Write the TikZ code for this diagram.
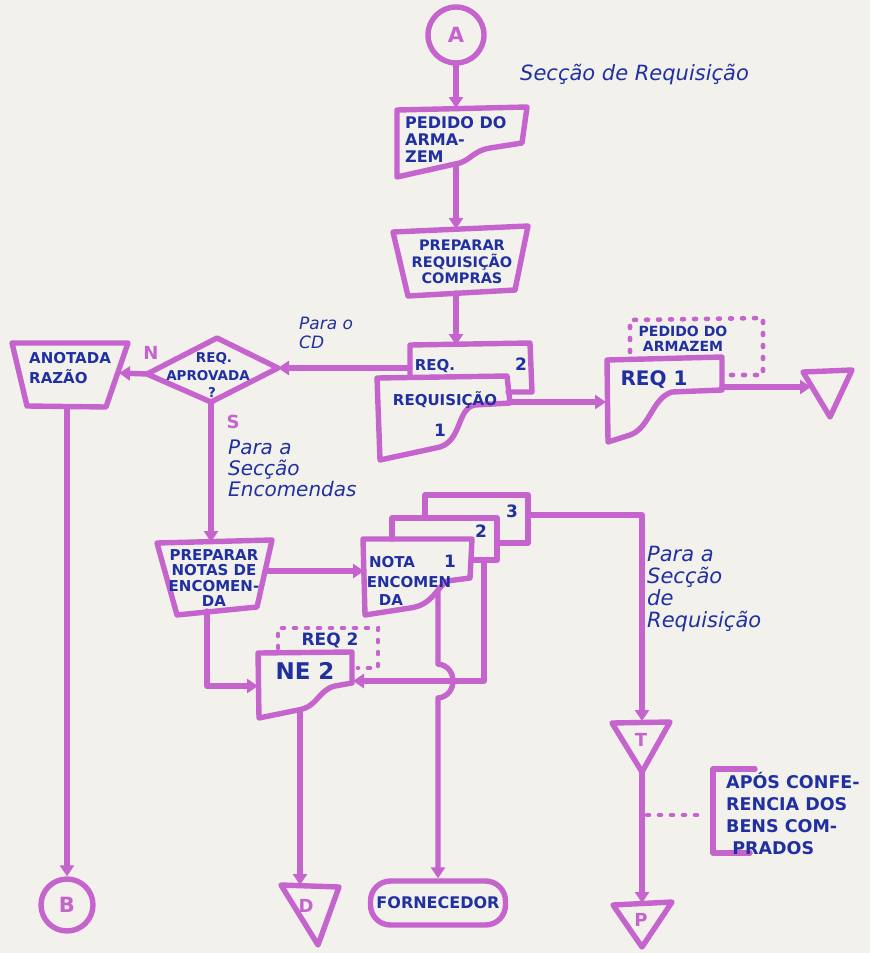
\documentclass[tikz,border=0pt]{standalone}
\usepackage{fontspec}
\setmainfont{DejaVu Sans}
\usetikzlibrary{arrows.meta,shapes.geometric}
\definecolor{pen}{RGB}{196,100,204}
\definecolor{ink}{RGB}{32,48,160}
\definecolor{paper}{RGB}{243,241,236}
\newcommand{\fsz}[2]{\fontsize{#1}{#2}\selectfont}
\tikzset{
  pen/.style={draw=pen, line width=5.4pt, line join=round, line cap=round},
  arr/.style={pen, -{Triangle[length=11pt,width=14pt]}},
  dotline/.style={draw=pen, line width=4.6pt, line cap=round, dash pattern=on 2pt off 10pt},
  caps/.style={text=ink, inner sep=0pt, align=left},
  scr/.style={text=ink, inner sep=0pt, align=left},
  conn/.style={circle, pen, text=pen, font=\bfseries\fsz{21}{21}, inner sep=0pt},
  glyph/.style={text=pen, inner sep=0pt, font=\bfseries\fsz{18}{18}}
}
\begin{document}
\begin{tikzpicture}[x=1pt,y=-1pt]
\fill[paper] (0,0) rectangle (870,953);
\useasboundingbox (0,0) rectangle (870,953);

% --- A and title
\node[conn, minimum size=56pt] (A) at (456,35) {A};
\node[scr, font=\itshape\fsz{21}{22}, anchor=west] (secReq) at (520,75) {Secção de Requisição};

% --- Pedido do armazem (document)
\draw[pen] (397,110) -- (527,107) -- (522,143) -- (490,148) .. controls (472,151) and (470,162) .. (455,164) -- (397,177) -- cycle;
\coordinate (pedT) at (456,108);
\coordinate (pedB) at (456,165);
\node[caps, font=\bfseries\fsz{16}{17}, anchor=north west] (pedTxt) at (405,116) {PEDIDO DO\\ARMA-\\ZEM};
\draw[arr] (A) -- (pedT);

% --- Preparar requisicao compras (manual operation)
\draw[pen] (393,232) -- (528,226) -- (515,290) -- (408,296) -- cycle;
\coordinate (prT) at (456,229);
\coordinate (prB) at (456,293);
\node[caps, align=center, font=\bfseries\fsz{14.5}{16.5}] (prTxt) at (462,262) {PREPARAR\\REQUISIÇÃO\\COMPRAS};
\draw[arr] (pedB) -- (prT);

% --- Requisicao multi-document
\draw[pen] (410,377) -- (410,345) -- (530,343) -- (532,392) -- (508,392);
\draw[pen] (377,378) -- (507,376) -- (510,403) -- (475,405) .. controls (457,408) and (462,440) .. (440,447) -- (380,460) -- cycle;
\coordinate (reqT) at (456,345);
\coordinate (reqL) at (410,368);
\coordinate (rqR) at (509,402);
\node[caps, font=\bfseries\fsz{15}{16}] (reqTxtA) at (435,366) {REQ.};
\node[caps, font=\bfseries\fsz{17}{18}] (reqTxtB) at (521,364) {2};
\node[caps, font=\bfseries\fsz{15}{16}] (reqTxtC) at (445,400) {REQUISIÇÃO};
\node[caps, font=\bfseries\fsz{17}{18}] (reqTxtD) at (440,430) {1};
\draw[arr] (prB) -- (reqT);

% --- Decision
\coordinate (dL) at (147,374);
\coordinate (dT) at (217,338);
\coordinate (dR) at (278,368);
\coordinate (dB) at (211,402);
\draw[pen] (dL) -- (dT) -- (dR) -- (dB) -- cycle;
\node[caps, font=\bfseries\fsz{13.5}{14}] (dTxtA) at (214,358) {REQ.};
\node[caps, font=\bfseries\fsz{13.5}{14}] (dTxtB) at (208,376) {APROVADA};
\node[caps, font=\bfseries\fsz{13.5}{14}] (dTxtC) at (212,392) {?};
\node[scr, font=\itshape\fsz{17}{19}, anchor=north west] (paraCD) at (299,317) {Para o\\CD};
\draw[arr] (reqL) -- (dR);

% --- Anotada razao
\draw[pen] (12,343) -- (128,343) -- (106,407) -- (27,406) -- cycle;
\coordinate (anR) at (119,373);
\coordinate (anB) at (67,407);
\node[caps, font=\bfseries\fsz{15}{20}, anchor=north west] (anTxt) at (29,352) {ANOTADA\\RAZÃO};
\node[glyph] (nLab) at (151,353) {N};
\draw[arr] (dL) -- (anR);
\node[conn, minimum size=52pt] (B) at (67,905) {B};
\draw[arr] (anB) -- (B);

% --- to Seccao Encomendas
\node[glyph] (sLab) at (233,422) {S};
\node[scr, font=\itshape\fsz{20}{21}, anchor=north west] (paraEnc) at (228,440) {Para a\\Secção\\Encomendas};

% --- Preparar notas de encomenda
\draw[pen] (157,543) -- (272,540) -- (257,607) -- (177,615) -- cycle;
\coordinate (pnT) at (211,542);
\coordinate (pnR) at (266,571);
\coordinate (pnB) at (207,611);
\coordinate (pnC) at (207,686);
\node[caps, align=center, font=\bfseries\fsz{15}{15.5}] (pnTxt) at (214,578) {PREPARAR\\NOTAS DE\\ENCOMEN-\\DA};
\draw[arr] (dB) -- (pnT);

% --- Nota de encomenda multi-document
\draw[pen] (425,518) -- (425,495) -- (528,495) -- (528,543) -- (498,543);
\draw[pen] (392,539) -- (392,518) -- (497,518) -- (497,560) -- (472,560);
\draw[pen] (363,539) -- (472,539) -- (470,578) -- (447,581) .. controls (435,590) and (432,605) .. (410,608) -- (365,615) -- cycle;
\coordinate (ntL) at (364,571);
\coordinate (n3R) at (528,515);
\coordinate (n3C) at (642,515);
\coordinate (n2B) at (484,560);
\coordinate (n2C) at (484,681);
\coordinate (n1B) at (438,592);
\coordinate (hop1) at (438,664);
\coordinate (hop2) at (438,698);
\node[caps, font=\bfseries\fsz{15}{16}] (ntTxtA) at (392,562) {NOTA};
\node[caps, font=\bfseries\fsz{17}{18}] (ntTxtB) at (450,561) {1};
\node[caps, font=\bfseries\fsz{15}{16}] (ntTxtC) at (409,582) {ENCOMEN};
\node[caps, font=\bfseries\fsz{15}{16}] (ntTxtD) at (391,600) {DA};
\node[caps, font=\bfseries\fsz{17}{18}] (ntTxtE) at (481,531) {2};
\node[caps, font=\bfseries\fsz{17}{18}] (ntTxtF) at (512,511) {3};
\draw[arr] (pnR) -- (ntL);

% --- T and P
\draw[pen] (612,723) -- (670,722) -- (642,772) -- cycle;
\coordinate (tT) at (642,721);
\coordinate (tB) at (642,772);
\node[glyph] (tLab) at (641,740) {T};
\node[scr, font=\itshape\fsz{21}{22}, anchor=north west] (paraReq) at (647,546) {Para a\\Secção\\de\\Requisição};
\draw[arr] (n3R) -- (n3C) -- (tT);
\draw[pen] (613,905) -- (672,902) -- (642,947) -- cycle;
\coordinate (pT) at (642,903);
\node[glyph] (pLab) at (641,920) {P};
\draw[arr] (tB) -- (pT);

% --- annotation
\coordinate (annA) at (647,815);
\coordinate (annB) at (705,815);
\draw[dotline] (annA) -- (annB);
\draw[pen] (755,769) -- (713,769) -- (713,853) -- (750,853);
\node[caps, font=\bfseries\fsz{17.5}{22}, anchor=north west] (annTxt) at (726,772) {APÓS CONFE-\\RENCIA DOS\\BENS COM-\\\ PRADOS};

% --- NE 2 document
\draw[pen] (258,653) -- (352,652) -- (352,683) -- (335,686) .. controls (318,690) and (318,707) .. (298,710) -- (259,718) -- cycle;
\draw[dotline] (278,648) -- (278,628) -- (378,628) -- (378,668) -- (358,668);
\coordinate (neL) at (258,686);
\coordinate (neR) at (353,681);
\coordinate (neB) at (300,710);
\node[caps, font=\bfseries\fsz{23}{24}] (neTxt) at (305,671) {NE 2};
\node[caps, font=\bfseries\fsz{17}{18}] (ne2Txt) at (330,640) {REQ 2};
\draw[arr] (pnB) -- (pnC) -- (neL);
\draw[arr] (n2B) -- (n2C) -- (neR);

% --- Fornecedor
\node[pen, rounded corners=20pt, minimum width=135pt, minimum height=44pt, text=ink, font=\bfseries\fsz{16}{16}] (forn) at (438,903) {FORNECEDOR};
\draw[arr] (n1B) -- (hop1) .. controls (458,666) and (458,696) .. (hop2) -- (forn.north);

% --- D
\draw[pen] (281,885) -- (339,887) -- (318,945) -- cycle;
\coordinate (dTri) at (300,885);
\node[glyph] (dLab) at (306,906) {D};
\draw[arr] (neB) -- (dTri);

% --- REQ 1 document
\draw[pen] (607,360) -- (722,357) -- (722,390) -- (672,392) .. controls (652,398) and (650,428) .. (630,435) -- (608,442) -- cycle;
\draw[dotline] (630,352) -- (630,320) -- (763,318) -- (763,375) -- (727,375);
\coordinate (r1L) at (606,402);
\coordinate (r1R) at (722,387);
\node[caps, align=center, font=\bfseries\fsz{14}{14.5}] (r1Ped) at (683,339) {PEDIDO DO\\ARMAZEM};
\node[caps, font=\bfseries\fsz{20}{20}] (r1Txt) at (654,380) {REQ 1};
\draw[arr] (rqR) -- (r1L);
\draw[pen] (803,372) -- (852,370) -- (830,417) -- cycle;
\coordinate (trL) at (811,387);
\draw[arr] (r1R) -- (trL);
\end{tikzpicture}
\end{document}
